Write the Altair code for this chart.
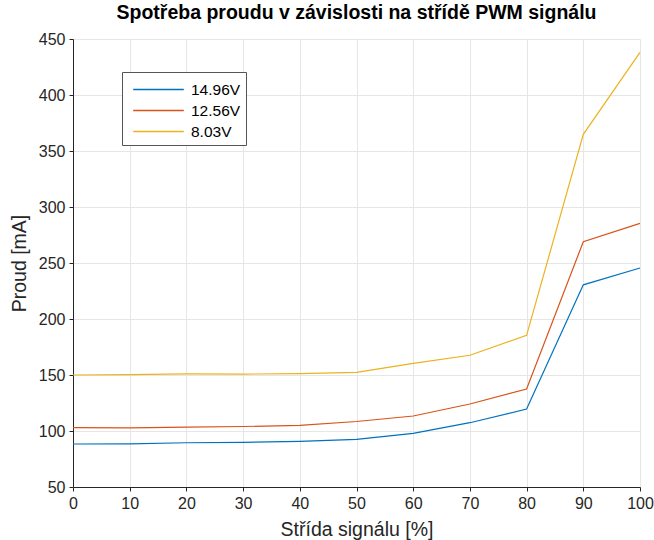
import altair as alt
import pandas as pd

duty = [0, 10, 20, 30, 40, 50, 60, 70, 80, 90, 100]
s1496 = [88.4, 88.5, 89.5, 89.8, 90.8, 92.5, 97.9, 107.4, 119.6, 230.5, 245.5]
s1256 = [103.0, 102.8, 103.5, 104.0, 105.0, 108.5, 113.4, 124.1, 137.5, 269.0, 285.4]
s803 = [150.0, 150.3, 151.0, 150.8, 151.3, 152.4, 160.4, 167.6, 185.4, 364.9, 438.1]
series_names = ["14.96V", "12.56V", "8.03V"]
colors = ["#0072BD", "#D95319", "#EDB120"]

rows = []
for name, vals in zip(series_names, [s1496, s1256, s803]):
    for d, v in zip(duty, vals):
        rows.append({"duty": d, "current": v, "series": name})
df = pd.DataFrame(rows)

font = "Liberation Sans"

chart = alt.Chart(df).mark_line(strokeWidth=1.2).encode(
    x=alt.X("duty:Q", title="Střída signálu [%]",
            scale=alt.Scale(domain=[0, 100], nice=False),
            axis=alt.Axis(values=duty, labelFlush=False)),
    y=alt.Y("current:Q", title="Proud [mA]",
            scale=alt.Scale(domain=[50, 450], nice=False),
            axis=alt.Axis(values=[50, 100, 150, 200, 250, 300, 350, 400, 450], labelFlush=False)),
    color=alt.Color("series:N", sort=series_names,
                    scale=alt.Scale(domain=series_names, range=colors),
                    legend=alt.Legend(title=None, orient="none", legendX=49, legendY=33,
                                      symbolType="M-2.2,0H2.2", symbolSize=529,
                                      symbolStrokeWidth=1.5, symbolOffset=19,
                                      labelFontSize=15.5, labelFont=font, labelColor="#000000",
                                      fillColor="white", strokeColor="#555555",
                                      padding=5, rowPadding=0, labelOffset=20)),
).properties(
    width=567, height=448,
    title=alt.TitleParams("Spotřeba proudu v závislosti na střídě PWM signálu",
                          font=font, fontSize=19.5, fontWeight="bold", color="#000000",
                          anchor="middle", offset=8),
    autosize=alt.AutoSizeParams(type="none"),
    padding={"left": 73, "top": 39, "right": 14, "bottom": 53},
).configure_axis(
    labelFont=font, labelFontSize=16, labelColor="#262626",
    titleFont=font, titleFontSize=19.5, titleColor="#262626", titleFontWeight="normal",
    domainColor="#262626", tickColor="#262626", tickSize=4,
    gridColor="#e6e6e6", gridWidth=1,
).configure_axisY(titlePadding=9, labelPadding=4).configure_axisX(
    titlePadding=9, labelPadding=4
).configure_view(stroke=None)

chart.save("out.html", embed_options={"renderer": "svg", "actions": False})
